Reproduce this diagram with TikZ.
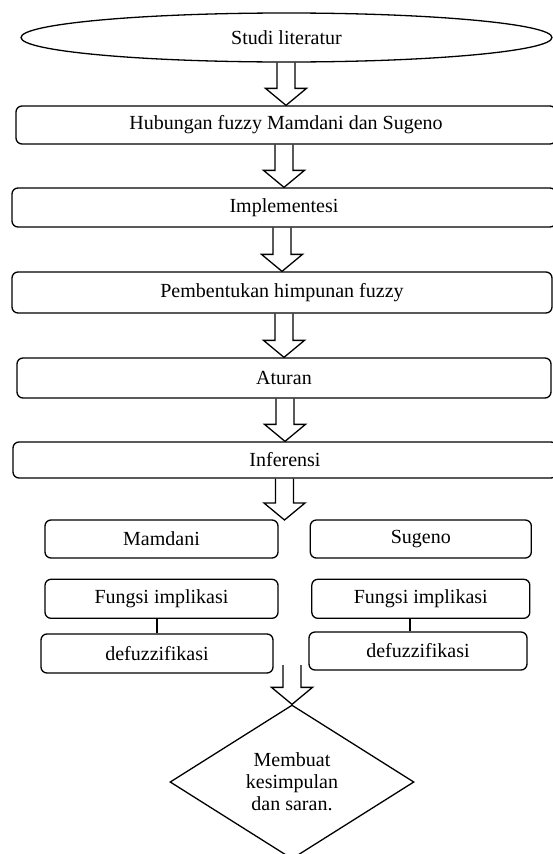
\documentclass[tikz,border=0pt]{standalone}
\usepackage{fontspec}
\setmainfont{Liberation Serif}
\usetikzlibrary{positioning,shapes.geometric,calc}

\tikzset{
  flowline/.style={line width=1.3pt},
  boxfont/.style={font=\fontsize{20}{22}\selectfont},
  procbox/.style={draw,flowline,boxfont,rounded corners=6pt,inner sep=0pt},
  startbox/.style={draw,flowline,boxfont,ellipse,inner sep=0pt},
  decidebox/.style={draw,flowline,boxfont,diamond,aspect=1.6,inner sep=0pt,align=center},
}

% hollow block arrow from #1 down to #2
\newcommand{\hollowarrow}[2]{%
  \draw[flowline,line join=miter] let \p1=(#1), \p2=(#2) in
    (\x2-9,\y1) -- (\x2-9,\y2+17) -- (\x2-20.5,\y2+17) -- (\x2,\y2)
    -- (\x2+20.5,\y2+17) -- (\x2+9,\y2+17) -- (\x2+9,\y1);}

\begin{document}
\begin{tikzpicture}[x=1pt,y=-1pt,node distance=20pt and 31pt]
\useasboundingbox (0,0) rectangle (553,854);

\node[startbox,minimum width=531,minimum height=49] (lit) at (286.5,37.5) {Studi literatur};
\node[procbox,minimum width=540,minimum height=38] (hub) at (286,125) {Hubungan fuzzy Mamdani dan Sugeno};
\node[procbox,minimum width=544,minimum height=39] (impl) at (284,207.5) {Implementesi};
\node[procbox,minimum width=540,minimum height=41] (pem) at (282,292.5) {Pembentukan himpunan fuzzy};
\node[procbox,minimum width=534,minimum height=40] (atur) at (284,378) {Aturan};
\node[procbox,minimum width=544,minimum height=36] (inf) at (285,460) {Inferensi};
\coordinate (split) at (284.5,520);

% two methods side by side
\node[procbox,minimum width=233,minimum height=38] (mam) at (161.5,539) {Mamdani};
\node[procbox,minimum width=221,minimum height=38] (sug) [right=of mam] {Sugeno};
\node[procbox,minimum width=233,minimum height=39] (impll) [below=of mam] {Fungsi implikasi};
\node[procbox,minimum width=218,minimum height=39] (implr) [below=of sug] {Fungsi implikasi};
\node[procbox,minimum width=232,minimum height=39] (defl) at (157,653.5) {defuzzifikasi};
\node[procbox,minimum width=218,minimum height=38] (defr) at (418,651) {defuzzifikasi};

\coordinate (join) at (292,665);
\node[decidebox,minimum width=244,minimum height=154] (dia) at (292,782) {Membuat\\kesimpulan\\dan saran.};

\hollowarrow{lit.south}{hub.north}
\hollowarrow{hub.south}{impl.north}
\hollowarrow{impl.south}{pem.north}
\hollowarrow{pem.south}{atur.north}
\hollowarrow{atur.south}{inf.north}
\hollowarrow{inf.south}{split}
\hollowarrow{join}{dia.north}

\draw[flowline] (defl.north) -- (defl.north |- impll.south);
\draw[flowline] ([xshift=-8pt]defr.north) -- ([xshift=-8pt]defr.north |- implr.south);
\end{tikzpicture}
\end{document}
